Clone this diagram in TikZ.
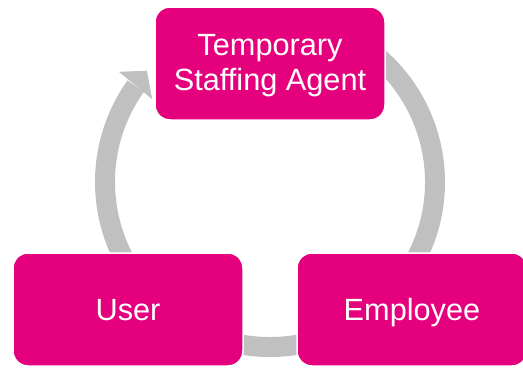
\documentclass[tikz,border=0pt]{standalone}
\usepackage{fontspec}
\setmainfont{Liberation Sans}
\definecolor{boxpink}{HTML}{E5007D}
\definecolor{ringgray}{HTML}{C0C0C0}
\begin{document}
\begin{tikzpicture}[x=1pt,y=1pt,
  rolebox/.style={rectangle, rounded corners=15pt, fill=boxpink, draw=white,
    line width=1.5pt, minimum width=230pt, minimum height=113pt, inner sep=0pt},
  roletext/.style={text=white, align=center, inner sep=0pt, anchor=base,
    font=\fontsize{30.7}{35.7}\selectfont},
  ring/.style={draw=ringgray, line width=20pt, line cap=butt},
  ringhead/.style={fill=ringgray, draw=none}]
\useasboundingbox (0,0) rectangle (523,368);
\fill[white] (0,0) rectangle (523,368);

% cycle ring behind the boxes
\coordinate (c) at (270,186);
\draw[ring] ([shift={(60:165)}]c) arc[start angle=60, end angle=-215.5, radius=165];
\coordinate (h1) at ([shift={(143.9:187)}]c);
\coordinate (h2) at ([shift={(137.9:166)}]c);
\coordinate (h3) at ([shift={(144.9:144)}]c);
\fill[ringhead] (h1) -- (h2) -- (h3) -- cycle;

% the three parties
\node[rolebox] (agent) at (270,304.5) {};
\node[rolebox] (user) at (128,58.5) {};
\node[rolebox] (employee) at (412,58.5) {};

% labels, placed by the baseline of their last line
\node[roletext] (agenttext) at (270,277.3) {Temporary\\Staffing Agent};
\node[roletext] (usertext) at (128,48) {User};
\node[roletext] (employeetext) at (412,48) {Employee};
\end{tikzpicture}
\end{document}
